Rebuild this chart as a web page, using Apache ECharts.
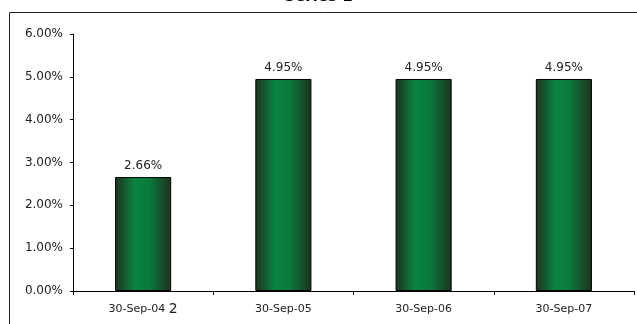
<!DOCTYPE html>
<html>
<head>
<meta charset="utf-8">
<script src="https://cdn.jsdelivr.net/npm/echarts@6/dist/echarts.min.js"></script>
<style>
  html, body { margin: 0; padding: 0; background: #fff; }
  #chart { width: 637px; height: 324px; }
</style>
</head>
<body>
<div id="chart"></div>
<script>
// donnees du graphique
var categories = ['30-Sep-04', '30-Sep-05', '30-Sep-06', '30-Sep-07'];
var footnotes = ['2', '', '', ''];   // renvoi de note sur la 1ere date
var rates = [2.66, 4.95, 4.95, 4.95]; // en %
var seriesName = 'Series 1';

var fontFamily = 'DejaVu Sans, Verdana, sans-serif';

var chart = echarts.init(document.getElementById('chart'), null, {renderer: 'canvas'});

var option = {
  animation: false,
  title: {
    text: seriesName,
    left: 'center',
    top: -15,
    textStyle: {fontFamily: fontFamily, fontSize: 15, fontWeight: 'bold', color: '#000'}
  },
  grid: {left: 73, right: 3, top: 34, bottom: 33},
  xAxis: {
    type: 'category',
    data: categories,
    axisLine: {lineStyle: {color: '#000', width: 1}},
    axisTick: {show: true, length: 4, lineStyle: {color: '#000'}},
    axisLabel: {
      interval: 0,
      fontFamily: fontFamily, fontSize: 11, color: '#222', margin: 11, lineHeight: 14,
      formatter: function (v, i) {
        return footnotes[i] ? v + ' {s|' + footnotes[i] + '}' : v;
      },
      rich: {
        // petit "2" surélevé comme un renvoi
        s: {fontFamily: fontFamily, fontSize: 14, color: '#222', lineHeight: 6, verticalAlign: 'top'}
      }
    }
  },
  yAxis: {
    type: 'value',
    min: 0,
    max: 6,
    interval: 1,
    splitLine: {show: false},
    axisLine: {show: true, lineStyle: {color: '#000', width: 1}},
    axisTick: {show: true, length: 3, lineStyle: {color: '#000'}},
    axisLabel: {
      fontFamily: fontFamily, fontSize: 12, color: '#222', margin: 10,
      formatter: function (v) { return v.toFixed(2) + '%'; }
    }
  },
  series: [{
    name: seriesName,
    type: 'bar',
    data: rates,
    barWidth: '40%',
    itemStyle: {
      borderColor: '#000',
      borderWidth: 1,
      color: new echarts.graphic.LinearGradient(0, 0, 1, 0, [
        {offset: 0, color: '#1e321e'},
        {offset: 0.35, color: '#0b8443'},
        {offset: 0.6, color: '#0a7a3d'},
        {offset: 1, color: '#1e321e'}
      ])
    },
    label: {
      show: true,
      position: 'top',
      distance: 5,
      fontFamily: fontFamily,
      fontSize: 12,
      color: '#222',
      formatter: function (p) { return p.value.toFixed(2) + '%'; }
    }
  }],
  graphic: [
    {
      type: 'rect',
      shape: {x: 9.5, y: 12.5, width: 640, height: 330},
      style: {fill: 'none', stroke: '#222', lineWidth: 1},
      silent: true
    }
  ]
};

chart.setOption(option);
</script>
</body>
</html>
